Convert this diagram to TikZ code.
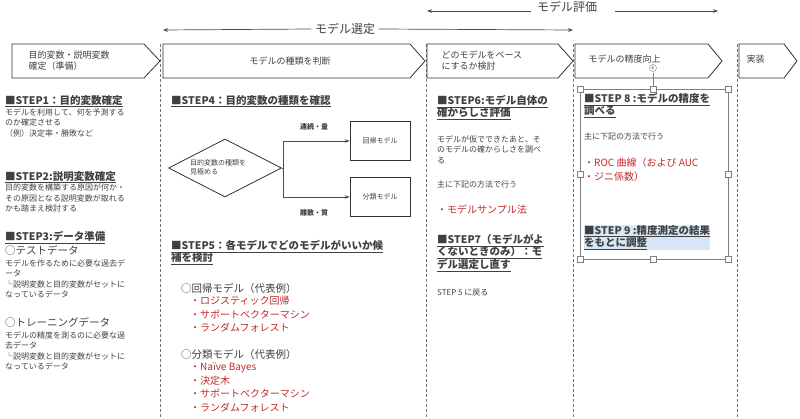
\documentclass[tikz,border=0pt]{standalone}
\usepackage{fontspec}
\setmainfont{Noto Sans CJK JP}
\usetikzlibrary{arrows.meta,shapes.geometric}
\definecolor{txt}{HTML}{404040}
\definecolor{red1}{HTML}{C0282A}
\definecolor{hl}{HTML}{D6E6F5}
\tikzset{
  chev/.style={draw=black!80,line width=0.8pt,fill=white},
  vline/.style={draw=black!55,dashed,line width=0.7pt,dash pattern=on 3pt off 2pt},
  head/.style={anchor=north west,align=left,font=\fontsize{10.5}{12.5}\selectfont\bfseries,text=txt,inner sep=0pt},
  body/.style={anchor=north west,align=left,font=\fontsize{8}{10.5}\selectfont,text=txt,inner sep=0pt},
  big/.style={anchor=north west,align=left,font=\fontsize{10.5}{12}\selectfont,text=txt,inner sep=0pt},
  redt/.style={anchor=north west,align=left,font=\fontsize{10}{13.5}\selectfont,text=red1,inner sep=0pt},
  ctext/.style={font=\fontsize{9}{11}\selectfont,text=txt,align=left},
  boxn/.style={draw=black!80,line width=0.8pt,minimum width=60pt,minimum height=39pt,font=\fontsize{7}{9}\selectfont,text=txt},
  harr/.style={-{Stealth[length=5pt]},draw=black!70,line width=0.7pt},
  handle/.style={draw=black!50,fill=white,line width=0.5pt,minimum size=6pt,inner sep=0pt},
}
\begin{document}
\begin{tikzpicture}[x=1pt,y=-1pt]
\useasboundingbox (0,0) rectangle (800,419);
% top arrows
\node[font=\fontsize{12}{14}\selectfont,text=txt,fill=white] (sel) at (345,29) {モデル選定};
\coordinate (s1) at (163,30); \coordinate (s2) at (573,30);
\draw[harr] (sel.west) -- (s1);
\draw[harr] (sel.east) -- (s2);
\node[font=\fontsize{12}{14}\selectfont,text=txt] (ev) at (567,7) {モデル評価};
\coordinate (e1) at (427,11); \coordinate (e2) at (718,11);
\draw[harr] ([xshift=-2pt]e1 -| ev.west) -- (e1);
\draw[harr] ([xshift=14pt]e2 -| ev.east) -- (e2);
% dashed lines
\foreach \x in {160,426,573,737} \draw[vline] (\x,44) -- (\x,419);
% chevrons
\draw[chev] (12,44) -- (144,44) -- (160,61) -- (144,78) -- (12,78) -- cycle;
\draw[chev] (163,44) -- (410,44) -- (425,61) -- (410,78) -- (163,78) -- cycle;
\draw[chev] (427,44) -- (558,44) -- (573,61) -- (558,78) -- (427,78) -- cycle;
\draw[chev] (575,44) -- (708,44) -- (722,61) -- (708,78) -- (575,78) -- cycle;
\draw[chev] (739,44) -- (784,44) -- (797,61) -- (784,78) -- (739,78) -- cycle;
\node[ctext,anchor=west] (c1) at (25,61) {目的変数・説明変数\\確定（準備）};
\node[ctext] (c2) at (290,61) {モデルの種類を判断};
\node[ctext,anchor=west] (c3) at (438,61) {どのモデルをベース\\にするか検討};
\node[ctext,anchor=west] (c4) at (585,59) {モデルの精度向上};
\node[ctext,anchor=west] (c5) at (743,59) {実装};
% column 1
\node[head] (t1) at (5,95) {\underline{■STEP1：目的変数確定}};
\node[body] (b1) at (5,108) {モデルを利用して、何を予測する\\のか確定させる\\（例）決定率・勝敗など};
\node[head] (t2) at (5,171) {\underline{■STEP2:説明変数確定}};
\node[body] (b2) at (5,184) {目的変数を構築する原因が何か・\\その原因となる説明変数が取れる\\かも踏まえ検討する};
\node[head] (t3) at (5,231) {\underline{■STEP3:データ準備}};
\node[big] (d1) at (5,245) {○テストデータ};
\node[body] (b3) at (5,259) {モデルを作るために必要な過去デ\\ータ\\ └説明変数と目的変数がセットに\\なっているデータ};
\node[big] (d2) at (5,317) {○トレーニングデータ};
\node[body] (b4) at (5,331) {モデルの精度を測るのに必要な過\\去データ\\ └説明変数と目的変数がセットに\\なっているデータ};
% column 2
\node[head] (t4) at (171,95) {\underline{■STEP4：目的変数の種類を確認}};
\node[draw=black!80,line width=0.8pt,diamond,aspect=2,minimum width=113pt,minimum height=58pt,inner sep=0pt] (dia) at (225,168) {};
\node[body,font=\fontsize{7}{9}\selectfont] (dt) at (190,159) {目的変数の種類を\\見極める};
\node[boxn] (reg) at (380,141) {回帰モデル};
\node[boxn] (cls) at (380,197) {分類モデル};
\coordinate (sp) at (283,168);
\draw[black!70,line width=0.7pt] (dia.east) -- (sp);
\draw[harr] (sp) |- (reg.west);
\draw[harr] (sp) |- (cls.west);
\node[font=\fontsize{7}{9}\selectfont\bfseries,text=txt] (l1) at (314,127) {連続・量};
\node[font=\fontsize{7}{9}\selectfont\bfseries,text=txt] (l2) at (314,213) {離散・質};
\node[head] (t5) at (171,240) {\underline{■STEP5：各モデルでどのモデルがいいか候}\\\underline{補を検討}};
\node[big] (r0) at (181,283) {○回帰モデル（代表例）};
\node[redt] (r1) at (190,296) {・ロジスティック回帰\\・サポートベクターマシン\\・ランダムフォレスト};
\node[big] (k0) at (181,349) {○分類モデル（代表例）};
\node[redt] (k1) at (190,363) {・Naïve Bayes\\・決定木\\・サポートベクターマシン\\・ランダムフォレスト};
% column 3
\node[head] (t6) at (437,95) {\underline{■STEP6:モデル自体の}\\\underline{確からしさ評価}};
\node[body] (b6) at (437,135) {モデルが仮でできたあと、そ\\のモデルの確からしさを調べ\\る};
\node[body] (b7) at (437,181) {主に下記の方法で行う};
\node[redt] (r6) at (437,205) {・モデルサンプル法};
\node[head] (t7) at (437,234) {\underline{■STEP7（モデルがよ}\\\underline{くないときのみ）：モ}\\\underline{デル選定し直す}};
\node[body] (b8) at (437,289) {STEP 5 に戻る};
% column 4 selection box
\draw[black!50,line width=0.6pt] (580,89) rectangle (728,259);
\draw[black!50,line width=0.5pt] (653,73) -- (653,89);
\node[draw=black!50,fill=white,circle,minimum size=7pt,inner sep=0pt,font=\fontsize{5}{5}\selectfont] (rot) at (653,68) {c};
\foreach \hx/\hy in {580/89,653/89,728/89,580/174,728/174,580/259,653/259,728/259}
  \node[handle] at (\hx,\hy) {};
\node[head] (t8) at (584,93) {\underline{■STEP 8 :モデルの精度を}\\\underline{調べる}};
\node[body] (b9) at (584,133) {主に下記の方法で行う};
\node[redt] (r8) at (584,158) {・ROC 曲線（および AUC\\・ジニ係数）};
\node[head,fill=hl] (t9) at (584,225) {\underline{■STEP 9 :精度測定の結果}\\\underline{をもとに調整}};
\end{tikzpicture}
\end{document}
